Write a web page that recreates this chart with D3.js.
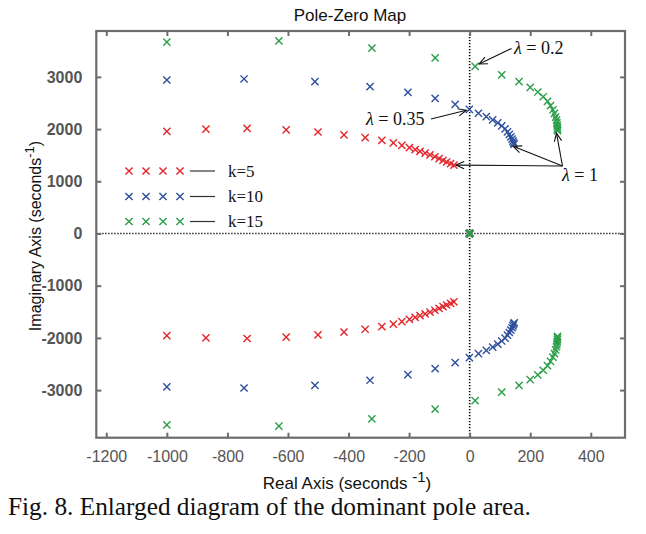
<!DOCTYPE html>
<html><head><meta charset="utf-8">
<script src="https://cdn.jsdelivr.net/npm/d3@7"></script>
<style>body{margin:0;background:#fff}svg{display:block}</style>
</head><body>
<svg id="c" width="646" height="534"></svg>
<script>
// ---- data (upper-half poles; lower half are complex conjugates) ----
const redRe   = [-1000,-871,-735,-606,-501,-415,-345,-290,-252,-224,-199,-180,-164,-147,-131,-115,-101,-88,-76,-63,-52];
const redIm   = [1955,2000,2012,1985,1944,1890,1835,1785,1735,1688,1645,1608,1573,1540,1505,1470,1435,1400,1370,1340,1310];
const blueRe  = [-1000,-745,-511,-329,-204,-114,-48,-1,29,55,76,93,106,117,125,131,136,140,143,145,147];
const blueIm  = [2940,2960,2908,2812,2705,2590,2475,2379,2303,2240,2178,2118,2060,2003,1948,1897,1850,1806,1768,1735,1710];
const greenRe = [-1000,-630,-323,-114,18,106,163,200,225,243,257,267,275,280,284,287,288,289,290,290,290];
const greenIm = [3665,3690,3550,3365,3200,3040,2910,2800,2710,2620,2530,2450,2370,2300,2230,2170,2120,2075,2035,2000,1970];
const originRe = [0];
const originIm = [0];
const seriesNames = ["k=5","k=10","k=15"];
const xTicks = [-1200,-1000,-800,-600,-400,-200,0,200,400];
const yTicks = [-3000,-2000,-1000,0,1000,2000,3000];
const xDomain = [-1233, 513];
const yDomain = [-3912, 3879];

const colors = ["#e3262b","#2d4f9d","#2b9e48"];
const series = [
  {re: redRe, im: redIm},
  {re: blueRe, im: blueIm},
  {re: greenRe, im: greenIm}
];

const svg = d3.select("#c");
const L = 96.3, R = 625, T = 31, B = 437.7;
const x = d3.scaleLinear().domain(xDomain).range([L, R]);
const y = d3.scaleLinear().domain(yDomain).range([B, T]);
const axisCol = "#6d6d6d";
const sans = "'Liberation Sans', Arial, sans-serif";
const serif = "'Liberation Serif', 'Times New Roman', serif";
const fmt = d => String(d);

// zero reference lines (dotted)
svg.append("line").attr("x1", L).attr("x2", R).attr("y1", y(0)).attr("y2", y(0))
  .attr("stroke", "#000").attr("stroke-width", 1.6).attr("stroke-dasharray", "1.2,1.8");
svg.append("line").attr("x1", x(0)).attr("x2", x(0)).attr("y1", T).attr("y2", B)
  .attr("stroke", "#000").attr("stroke-width", 1.6).attr("stroke-dasharray", "1.2,1.8");

// axes
function styleAxis(g, hideLabels) {
  g.select(".domain").remove();
  g.selectAll(".tick line").attr("stroke", axisCol).attr("stroke-width", 2);
  if (hideLabels) g.selectAll(".tick text").remove();
}
const gxB = svg.append("g").attr("transform", `translate(0,${B})`)
  .call(d3.axisBottom(x).tickValues(xTicks).tickSize(-5).tickPadding(13).tickFormat(fmt));
styleAxis(gxB, false);
gxB.selectAll(".tick text").attr("font-family", sans).attr("font-size", 16).attr("fill", "#555");
const gxT = svg.append("g").attr("transform", `translate(0,${T})`)
  .call(d3.axisTop(x).tickValues(xTicks).tickSize(-5));
styleAxis(gxT, true);
const gyL = svg.append("g").attr("transform", `translate(${L},0)`)
  .call(d3.axisLeft(y).tickValues(yTicks).tickSize(-5).tickPadding(14).tickFormat(fmt));
styleAxis(gyL, false);
gyL.selectAll(".tick text").attr("font-family", sans).attr("font-size", 16).attr("font-weight", "bold").attr("fill", "#555");
const gyR = svg.append("g").attr("transform", `translate(${R},0)`)
  .call(d3.axisRight(y).tickValues(yTicks).tickSize(-5));
styleAxis(gyR, true);

svg.append("rect").attr("x", L).attr("y", T).attr("width", R - L).attr("height", B - T)
  .attr("fill", "none").attr("stroke", axisCol).attr("stroke-width", 2.2);

// markers
const h = 3.6;
function xMark(g, cx, cy, col, sw) {
  g.append("path").attr("d", `M${cx-h},${cy-h}L${cx+h},${cy+h}M${cx-h},${cy+h}L${cx+h},${cy-h}`)
    .attr("stroke", col).attr("stroke-width", sw).attr("fill", "none");
}
const gm = svg.append("g");
series.forEach((s, i) => {
  s.re.forEach((re, j) => {
    xMark(gm, x(re), y(s.im[j]), colors[i], 1.4);
    xMark(gm, x(re), y(-s.im[j]), colors[i], 1.4);
  });
});
colors.forEach(c => originRe.forEach((re, j) => xMark(gm, x(re), y(originIm[j]), c, 2.6)));

// legend
const legY = [171, 196.5, 221.5];
const legX = [129, 146, 163, 180];
seriesNames.forEach((n, i) => {
  legX.forEach(lx => xMark(svg, lx, legY[i], colors[i], 1.4));
  svg.append("line").attr("x1", 190).attr("x2", 215).attr("y1", legY[i]).attr("y2", legY[i])
    .attr("stroke", "#333").attr("stroke-width", 1.2);
  svg.append("text").attr("x", 228).attr("y", legY[i] + 5.5).text(n)
    .attr("font-family", serif).attr("font-size", 17).attr("fill", "#111");
});

// annotations
function arrow(x1, y1, x2, y2) {
  const g = svg.append("g").attr("stroke", "#111").attr("stroke-width", 1.1).attr("fill", "none");
  g.append("line").attr("x1", x1).attr("y1", y1).attr("x2", x2).attr("y2", y2);
  const a = Math.atan2(y2 - y1, x2 - x1), len = 9, sp = 0.42;
  g.append("path").attr("d",
    `M${x2 - len*Math.cos(a - sp)},${y2 - len*Math.sin(a - sp)}L${x2},${y2}L${x2 - len*Math.cos(a + sp)},${y2 - len*Math.sin(a + sp)}`);
}
function lamText(tx, ty, val) {
  const t = svg.append("text").attr("x", tx).attr("y", ty)
    .attr("font-family", serif).attr("font-size", 18).attr("fill", "#111");
  t.append("tspan").attr("font-style", "italic").text("λ");
  t.append("tspan").text(" = " + val);
}
const gEnd = greenRe.length - 1;
lamText(514, 54, "0.2");
arrow(511.5, 48.5, x(greenRe[4]) + 4, y(greenIm[4]) - 2.5);
lamText(366, 125, "0.35");
arrow(431, 119, x(blueRe[7]) - 3, y(blueIm[7]) + 1);
lamText(562, 181, "1");
arrow(562.5, 166, x(redRe[redRe.length-1]) + 2, y(redIm[redIm.length-1]));
arrow(562.5, 166, x(blueRe[blueRe.length-1]) - 1, y(blueIm[blueIm.length-1]) + 2);
arrow(562.5, 166, x(greenRe[gEnd]) - 1, y(greenIm[gEnd]) + 2.5);

// titles
svg.append("text").attr("x", 350).attr("y", 21).attr("text-anchor", "middle")
  .attr("font-family", sans).attr("font-size", 17).attr("fill", "#111").text("Pole-Zero Map");
const xl = svg.append("text").attr("x", 347).attr("y", 489).attr("text-anchor", "middle")
  .attr("font-family", sans).attr("font-size", 17).attr("fill", "#111");
xl.append("tspan").text("Real Axis (seconds ");
xl.append("tspan").attr("dy", -7).attr("font-size", 15).text("-1");
xl.append("tspan").attr("dy", 7).text(")");
const yl = svg.append("text").attr("transform", "translate(41,236) rotate(-90)").attr("text-anchor", "middle")
  .attr("font-family", sans).attr("font-size", 16).attr("fill", "#111");
yl.append("tspan").text("Imaginary Axis (seconds");
yl.append("tspan").attr("dy", -7).attr("font-size", 13).text("-1");
yl.append("tspan").attr("dy", 7).text(")");

// caption
svg.append("text").attr("x", 8).attr("y", 515).attr("font-family", serif).attr("font-size", 25.3)
  .attr("fill", "#111").text("Fig. 8. Enlarged diagram of the dominant pole area.");
</script>
</body></html>
